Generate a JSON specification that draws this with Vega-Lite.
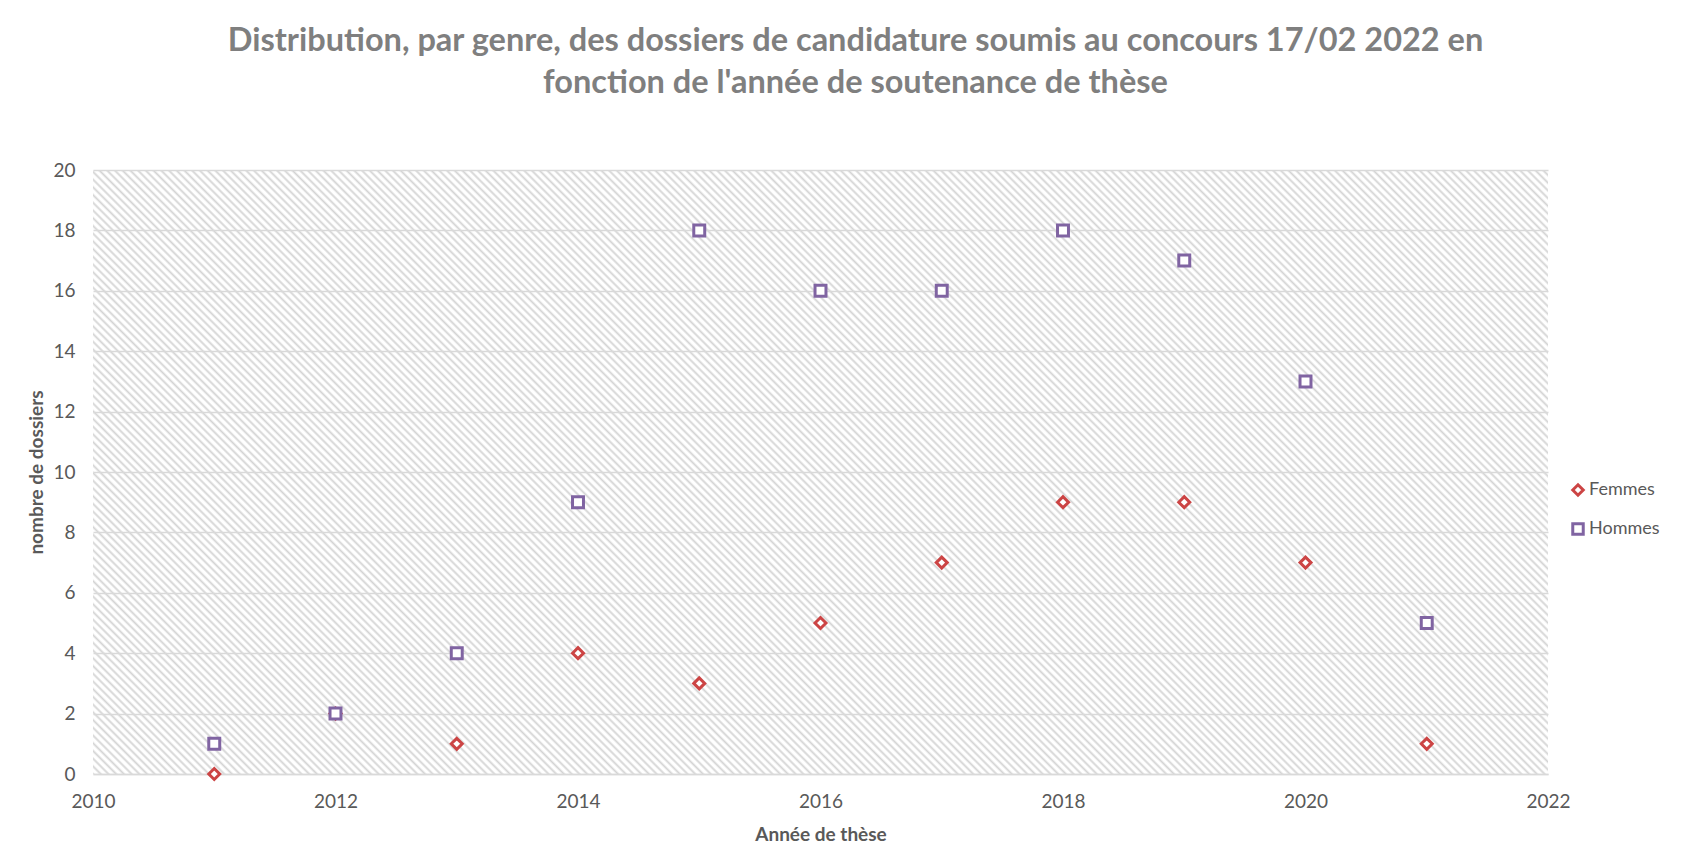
{
  "$schema": "https://vega.github.io/schema/vega-lite/v6.json",
  "width": 1455,
  "height": 604,
  "autosize": {"type": "none"},
  "padding": {"left": 93, "top": 170, "right": 146, "bottom": 76},
  "background": "white",
  "title": {
    "text": ["Distribution, par genre, des dossiers de candidature soumis au concours 17/02 2022 en", "fonction de l'année de soutenance de thèse"],
    "font": "Lato",
    "fontSize": 32.5,
    "fontWeight": "bold",
    "color": "#7f7f7f",
    "lineHeight": 42,
    "offset": 62,
    "dx": 35,
    "anchor": "middle"
  },
  "data": {
    "values": [
      {"annee": 2011, "n": 0, "genre": "Femmes"},
      {"annee": 2012, "n": 2, "genre": "Femmes"},
      {"annee": 2013, "n": 1, "genre": "Femmes"},
      {"annee": 2014, "n": 4, "genre": "Femmes"},
      {"annee": 2015, "n": 3, "genre": "Femmes"},
      {"annee": 2016, "n": 5, "genre": "Femmes"},
      {"annee": 2017, "n": 7, "genre": "Femmes"},
      {"annee": 2018, "n": 9, "genre": "Femmes"},
      {"annee": 2019, "n": 9, "genre": "Femmes"},
      {"annee": 2020, "n": 7, "genre": "Femmes"},
      {"annee": 2021, "n": 1, "genre": "Femmes"},
      {"annee": 2011, "n": 1, "genre": "Hommes"},
      {"annee": 2012, "n": 2, "genre": "Hommes"},
      {"annee": 2013, "n": 4, "genre": "Hommes"},
      {"annee": 2014, "n": 9, "genre": "Hommes"},
      {"annee": 2015, "n": 18, "genre": "Hommes"},
      {"annee": 2016, "n": 16, "genre": "Hommes"},
      {"annee": 2017, "n": 16, "genre": "Hommes"},
      {"annee": 2018, "n": 18, "genre": "Hommes"},
      {"annee": 2019, "n": 17, "genre": "Hommes"},
      {"annee": 2020, "n": 13, "genre": "Hommes"},
      {"annee": 2021, "n": 5, "genre": "Hommes"}
    ]
  },
  "mark": {"type": "point", "filled": true, "fill": "white", "strokeWidth": 3, "size": 120, "opacity": 1, "fillOpacity": 1, "strokeOpacity": 1},
  "encoding": {
    "x": {
      "field": "annee",
      "type": "quantitative",
      "scale": {"domain": [2010, 2022], "nice": false, "zero": false},
      "axis": {
        "title": "Année de thèse",
        "values": [2010, 2012, 2014, 2016, 2018, 2020, 2022],
        "format": "d",
        "grid": false,
        "ticks": false,
        "tickSize": 0,
        "labelPadding": 18,
        "labelFlush": false,
        "domainColor": "#d9d9d9",
        "domainWidth": 1.5,
        "titlePadding": 14
      }
    },
    "y": {
      "field": "n",
      "type": "quantitative",
      "scale": {"domain": [0, 20], "nice": false},
      "axis": {
        "title": "nombre de dossiers",
        "values": [0, 2, 4, 6, 8, 10, 12, 14, 16, 18, 20],
        "grid": true,
        "gridColor": "#d9d9d9",
        "gridWidth": 1.5,
        "ticks": false,
        "tickSize": 0,
        "domain": false,
        "labelPadding": 18,
        "titlePadding": 6
      }
    },
    "stroke": {
      "field": "genre",
      "type": "nominal",
      "scale": {"domain": ["Femmes", "Hommes"], "range": ["#cc4444", "#8064a2"]},
      "legend": {
        "title": null,
        "orient": "none",
        "legendX": 1476,
        "legendY": 311,
        "labelFont": "Lato",
        "labelFontSize": 18,
        "labelColor": "#595959",
        "rowPadding": 15,
        "symbolStrokeWidth": 3,
        "symbolFillColor": "white",
        "symbolSize": 110,
        "labelOffset": 2
      }
    },
    "shape": {
      "field": "genre",
      "type": "nominal",
      "scale": {"domain": ["Femmes", "Hommes"], "range": ["diamond", "square"]}
    }
  },
  "config": {
    "view": {
      "stroke": null,
      "fillOpacity": 0.85,
      "fill": {
        "gradient": "linear",
        "x1": 0, "y1": 1, "x2": 1.2071, "y2": 0.4989,
        "stops": [
{"offset":0.00,"color":"#ccc"},{"offset":0.00125,"color":"#fff"},{"offset":0.0025,"color":"#fff"},{"offset":0.00375,"color":"#ccc"},{"offset":0.005,"color":"#fff"},{"offset":0.00625,"color":"#fff"},{"offset":0.0075,"color":"#ccc"},{"offset":0.00875,"color":"#fff"},
{"offset":0.01,"color":"#fff"},{"offset":0.01125,"color":"#ccc"},{"offset":0.0125,"color":"#fff"},{"offset":0.01375,"color":"#fff"},{"offset":0.015,"color":"#ccc"},{"offset":0.01625,"color":"#fff"},{"offset":0.0175,"color":"#fff"},{"offset":0.01875,"color":"#ccc"},
{"offset":0.02,"color":"#fff"},{"offset":0.02125,"color":"#fff"},{"offset":0.0225,"color":"#ccc"},{"offset":0.02375,"color":"#fff"},{"offset":0.025,"color":"#fff"},{"offset":0.02625,"color":"#ccc"},{"offset":0.0275,"color":"#fff"},{"offset":0.02875,"color":"#fff"},
{"offset":0.03,"color":"#ccc"},{"offset":0.03125,"color":"#fff"},{"offset":0.0325,"color":"#fff"},{"offset":0.03375,"color":"#ccc"},{"offset":0.035,"color":"#fff"},{"offset":0.03625,"color":"#fff"},{"offset":0.0375,"color":"#ccc"},{"offset":0.03875,"color":"#fff"},
{"offset":0.04,"color":"#fff"},{"offset":0.04125,"color":"#ccc"},{"offset":0.0425,"color":"#fff"},{"offset":0.04375,"color":"#fff"},{"offset":0.045,"color":"#ccc"},{"offset":0.04625,"color":"#fff"},{"offset":0.0475,"color":"#fff"},{"offset":0.04875,"color":"#ccc"},
{"offset":0.05,"color":"#fff"},{"offset":0.05125,"color":"#fff"},{"offset":0.0525,"color":"#ccc"},{"offset":0.05375,"color":"#fff"},{"offset":0.055,"color":"#fff"},{"offset":0.05625,"color":"#ccc"},{"offset":0.0575,"color":"#fff"},{"offset":0.05875,"color":"#fff"},
{"offset":0.06,"color":"#ccc"},{"offset":0.06125,"color":"#fff"},{"offset":0.0625,"color":"#fff"},{"offset":0.06375,"color":"#ccc"},{"offset":0.065,"color":"#fff"},{"offset":0.06625,"color":"#fff"},{"offset":0.0675,"color":"#ccc"},{"offset":0.06875,"color":"#fff"},
{"offset":0.07,"color":"#fff"},{"offset":0.07125,"color":"#ccc"},{"offset":0.0725,"color":"#fff"},{"offset":0.07375,"color":"#fff"},{"offset":0.075,"color":"#ccc"},{"offset":0.07625,"color":"#fff"},{"offset":0.0775,"color":"#fff"},{"offset":0.07875,"color":"#ccc"},
{"offset":0.08,"color":"#fff"},{"offset":0.08125,"color":"#fff"},{"offset":0.0825,"color":"#ccc"},{"offset":0.08375,"color":"#fff"},{"offset":0.085,"color":"#fff"},{"offset":0.08625,"color":"#ccc"},{"offset":0.0875,"color":"#fff"},{"offset":0.08875,"color":"#fff"},
{"offset":0.09,"color":"#ccc"},{"offset":0.09125,"color":"#fff"},{"offset":0.0925,"color":"#fff"},{"offset":0.09375,"color":"#ccc"},{"offset":0.095,"color":"#fff"},{"offset":0.09625,"color":"#fff"},{"offset":0.0975,"color":"#ccc"},{"offset":0.09875,"color":"#fff"},
{"offset":0.10,"color":"#fff"},{"offset":0.10125,"color":"#ccc"},{"offset":0.1025,"color":"#fff"},{"offset":0.10375,"color":"#fff"},{"offset":0.105,"color":"#ccc"},{"offset":0.10625,"color":"#fff"},{"offset":0.1075,"color":"#fff"},{"offset":0.10875,"color":"#ccc"},
{"offset":0.11,"color":"#fff"},{"offset":0.11125,"color":"#fff"},{"offset":0.1125,"color":"#ccc"},{"offset":0.11375,"color":"#fff"},{"offset":0.115,"color":"#fff"},{"offset":0.11625,"color":"#ccc"},{"offset":0.1175,"color":"#fff"},{"offset":0.11875,"color":"#fff"},
{"offset":0.12,"color":"#ccc"},{"offset":0.12125,"color":"#fff"},{"offset":0.1225,"color":"#fff"},{"offset":0.12375,"color":"#ccc"},{"offset":0.125,"color":"#fff"},{"offset":0.12625,"color":"#fff"},{"offset":0.1275,"color":"#ccc"},{"offset":0.12875,"color":"#fff"},
{"offset":0.13,"color":"#fff"},{"offset":0.13125,"color":"#ccc"},{"offset":0.1325,"color":"#fff"},{"offset":0.13375,"color":"#fff"},{"offset":0.135,"color":"#ccc"},{"offset":0.13625,"color":"#fff"},{"offset":0.1375,"color":"#fff"},{"offset":0.13875,"color":"#ccc"},
{"offset":0.14,"color":"#fff"},{"offset":0.14125,"color":"#fff"},{"offset":0.1425,"color":"#ccc"},{"offset":0.14375,"color":"#fff"},{"offset":0.145,"color":"#fff"},{"offset":0.14625,"color":"#ccc"},{"offset":0.1475,"color":"#fff"},{"offset":0.14875,"color":"#fff"},
{"offset":0.15,"color":"#ccc"},{"offset":0.15125,"color":"#fff"},{"offset":0.1525,"color":"#fff"},{"offset":0.15375,"color":"#ccc"},{"offset":0.155,"color":"#fff"},{"offset":0.15625,"color":"#fff"},{"offset":0.1575,"color":"#ccc"},{"offset":0.15875,"color":"#fff"},
{"offset":0.16,"color":"#fff"},{"offset":0.16125,"color":"#ccc"},{"offset":0.1625,"color":"#fff"},{"offset":0.16375,"color":"#fff"},{"offset":0.165,"color":"#ccc"},{"offset":0.16625,"color":"#fff"},{"offset":0.1675,"color":"#fff"},{"offset":0.16875,"color":"#ccc"},
{"offset":0.17,"color":"#fff"},{"offset":0.17125,"color":"#fff"},{"offset":0.1725,"color":"#ccc"},{"offset":0.17375,"color":"#fff"},{"offset":0.175,"color":"#fff"},{"offset":0.17625,"color":"#ccc"},{"offset":0.1775,"color":"#fff"},{"offset":0.17875,"color":"#fff"},
{"offset":0.18,"color":"#ccc"},{"offset":0.18125,"color":"#fff"},{"offset":0.1825,"color":"#fff"},{"offset":0.18375,"color":"#ccc"},{"offset":0.185,"color":"#fff"},{"offset":0.18625,"color":"#fff"},{"offset":0.1875,"color":"#ccc"},{"offset":0.18875,"color":"#fff"},
{"offset":0.19,"color":"#fff"},{"offset":0.19125,"color":"#ccc"},{"offset":0.1925,"color":"#fff"},{"offset":0.19375,"color":"#fff"},{"offset":0.195,"color":"#ccc"},{"offset":0.19625,"color":"#fff"},{"offset":0.1975,"color":"#fff"},{"offset":0.19875,"color":"#ccc"},
{"offset":0.20,"color":"#fff"},{"offset":0.20125,"color":"#fff"},{"offset":0.2025,"color":"#ccc"},{"offset":0.20375,"color":"#fff"},{"offset":0.205,"color":"#fff"},{"offset":0.20625,"color":"#ccc"},{"offset":0.2075,"color":"#fff"},{"offset":0.20875,"color":"#fff"},
{"offset":0.21,"color":"#ccc"},{"offset":0.21125,"color":"#fff"},{"offset":0.2125,"color":"#fff"},{"offset":0.21375,"color":"#ccc"},{"offset":0.215,"color":"#fff"},{"offset":0.21625,"color":"#fff"},{"offset":0.2175,"color":"#ccc"},{"offset":0.21875,"color":"#fff"},
{"offset":0.22,"color":"#fff"},{"offset":0.22125,"color":"#ccc"},{"offset":0.2225,"color":"#fff"},{"offset":0.22375,"color":"#fff"},{"offset":0.225,"color":"#ccc"},{"offset":0.22625,"color":"#fff"},{"offset":0.2275,"color":"#fff"},{"offset":0.22875,"color":"#ccc"},
{"offset":0.23,"color":"#fff"},{"offset":0.23125,"color":"#fff"},{"offset":0.2325,"color":"#ccc"},{"offset":0.23375,"color":"#fff"},{"offset":0.235,"color":"#fff"},{"offset":0.23625,"color":"#ccc"},{"offset":0.2375,"color":"#fff"},{"offset":0.23875,"color":"#fff"},
{"offset":0.24,"color":"#ccc"},{"offset":0.24125,"color":"#fff"},{"offset":0.2425,"color":"#fff"},{"offset":0.24375,"color":"#ccc"},{"offset":0.245,"color":"#fff"},{"offset":0.24625,"color":"#fff"},{"offset":0.2475,"color":"#ccc"},{"offset":0.24875,"color":"#fff"},
{"offset":0.25,"color":"#fff"},{"offset":0.25125,"color":"#ccc"},{"offset":0.2525,"color":"#fff"},{"offset":0.25375,"color":"#fff"},{"offset":0.255,"color":"#ccc"},{"offset":0.25625,"color":"#fff"},{"offset":0.2575,"color":"#fff"},{"offset":0.25875,"color":"#ccc"},
{"offset":0.26,"color":"#fff"},{"offset":0.26125,"color":"#fff"},{"offset":0.2625,"color":"#ccc"},{"offset":0.26375,"color":"#fff"},{"offset":0.265,"color":"#fff"},{"offset":0.26625,"color":"#ccc"},{"offset":0.2675,"color":"#fff"},{"offset":0.26875,"color":"#fff"},
{"offset":0.27,"color":"#ccc"},{"offset":0.27125,"color":"#fff"},{"offset":0.2725,"color":"#fff"},{"offset":0.27375,"color":"#ccc"},{"offset":0.275,"color":"#fff"},{"offset":0.27625,"color":"#fff"},{"offset":0.2775,"color":"#ccc"},{"offset":0.27875,"color":"#fff"},
{"offset":0.28,"color":"#fff"},{"offset":0.28125,"color":"#ccc"},{"offset":0.2825,"color":"#fff"},{"offset":0.28375,"color":"#fff"},{"offset":0.285,"color":"#ccc"},{"offset":0.28625,"color":"#fff"},{"offset":0.2875,"color":"#fff"},{"offset":0.28875,"color":"#ccc"},
{"offset":0.29,"color":"#fff"},{"offset":0.29125,"color":"#fff"},{"offset":0.2925,"color":"#ccc"},{"offset":0.29375,"color":"#fff"},{"offset":0.295,"color":"#fff"},{"offset":0.29625,"color":"#ccc"},{"offset":0.2975,"color":"#fff"},{"offset":0.29875,"color":"#fff"},
{"offset":0.30,"color":"#ccc"},{"offset":0.30125,"color":"#fff"},{"offset":0.3025,"color":"#fff"},{"offset":0.30375,"color":"#ccc"},{"offset":0.305,"color":"#fff"},{"offset":0.30625,"color":"#fff"},{"offset":0.3075,"color":"#ccc"},{"offset":0.30875,"color":"#fff"},
{"offset":0.31,"color":"#fff"},{"offset":0.31125,"color":"#ccc"},{"offset":0.3125,"color":"#fff"},{"offset":0.31375,"color":"#fff"},{"offset":0.315,"color":"#ccc"},{"offset":0.31625,"color":"#fff"},{"offset":0.3175,"color":"#fff"},{"offset":0.31875,"color":"#ccc"},
{"offset":0.32,"color":"#fff"},{"offset":0.32125,"color":"#fff"},{"offset":0.3225,"color":"#ccc"},{"offset":0.32375,"color":"#fff"},{"offset":0.325,"color":"#fff"},{"offset":0.32625,"color":"#ccc"},{"offset":0.3275,"color":"#fff"},{"offset":0.32875,"color":"#fff"},
{"offset":0.33,"color":"#ccc"},{"offset":0.33125,"color":"#fff"},{"offset":0.3325,"color":"#fff"},{"offset":0.33375,"color":"#ccc"},{"offset":0.335,"color":"#fff"},{"offset":0.33625,"color":"#fff"},{"offset":0.3375,"color":"#ccc"},{"offset":0.33875,"color":"#fff"},
{"offset":0.34,"color":"#fff"},{"offset":0.34125,"color":"#ccc"},{"offset":0.3425,"color":"#fff"},{"offset":0.34375,"color":"#fff"},{"offset":0.345,"color":"#ccc"},{"offset":0.34625,"color":"#fff"},{"offset":0.3475,"color":"#fff"},{"offset":0.34875,"color":"#ccc"},
{"offset":0.35,"color":"#fff"},{"offset":0.35125,"color":"#fff"},{"offset":0.3525,"color":"#ccc"},{"offset":0.35375,"color":"#fff"},{"offset":0.355,"color":"#fff"},{"offset":0.35625,"color":"#ccc"},{"offset":0.3575,"color":"#fff"},{"offset":0.35875,"color":"#fff"},
{"offset":0.36,"color":"#ccc"},{"offset":0.36125,"color":"#fff"},{"offset":0.3625,"color":"#fff"},{"offset":0.36375,"color":"#ccc"},{"offset":0.365,"color":"#fff"},{"offset":0.36625,"color":"#fff"},{"offset":0.3675,"color":"#ccc"},{"offset":0.36875,"color":"#fff"},
{"offset":0.37,"color":"#fff"},{"offset":0.37125,"color":"#ccc"},{"offset":0.3725,"color":"#fff"},{"offset":0.37375,"color":"#fff"},{"offset":0.375,"color":"#ccc"},{"offset":0.37625,"color":"#fff"},{"offset":0.3775,"color":"#fff"},{"offset":0.37875,"color":"#ccc"},
{"offset":0.38,"color":"#fff"},{"offset":0.38125,"color":"#fff"},{"offset":0.3825,"color":"#ccc"},{"offset":0.38375,"color":"#fff"},{"offset":0.385,"color":"#fff"},{"offset":0.38625,"color":"#ccc"},{"offset":0.3875,"color":"#fff"},{"offset":0.38875,"color":"#fff"},
{"offset":0.39,"color":"#ccc"},{"offset":0.39125,"color":"#fff"},{"offset":0.3925,"color":"#fff"},{"offset":0.39375,"color":"#ccc"},{"offset":0.395,"color":"#fff"},{"offset":0.39625,"color":"#fff"},{"offset":0.3975,"color":"#ccc"},{"offset":0.39875,"color":"#fff"},
{"offset":0.40,"color":"#fff"},{"offset":0.40125,"color":"#ccc"},{"offset":0.4025,"color":"#fff"},{"offset":0.40375,"color":"#fff"},{"offset":0.405,"color":"#ccc"},{"offset":0.40625,"color":"#fff"},{"offset":0.4075,"color":"#fff"},{"offset":0.40875,"color":"#ccc"},
{"offset":0.41,"color":"#fff"},{"offset":0.41125,"color":"#fff"},{"offset":0.4125,"color":"#ccc"},{"offset":0.41375,"color":"#fff"},{"offset":0.415,"color":"#fff"},{"offset":0.41625,"color":"#ccc"},{"offset":0.4175,"color":"#fff"},{"offset":0.41875,"color":"#fff"},
{"offset":0.42,"color":"#ccc"},{"offset":0.42125,"color":"#fff"},{"offset":0.4225,"color":"#fff"},{"offset":0.42375,"color":"#ccc"},{"offset":0.425,"color":"#fff"},{"offset":0.42625,"color":"#fff"},{"offset":0.4275,"color":"#ccc"},{"offset":0.42875,"color":"#fff"},
{"offset":0.43,"color":"#fff"},{"offset":0.43125,"color":"#ccc"},{"offset":0.4325,"color":"#fff"},{"offset":0.43375,"color":"#fff"},{"offset":0.435,"color":"#ccc"},{"offset":0.43625,"color":"#fff"},{"offset":0.4375,"color":"#fff"},{"offset":0.43875,"color":"#ccc"},
{"offset":0.44,"color":"#fff"},{"offset":0.44125,"color":"#fff"},{"offset":0.4425,"color":"#ccc"},{"offset":0.44375,"color":"#fff"},{"offset":0.445,"color":"#fff"},{"offset":0.44625,"color":"#ccc"},{"offset":0.4475,"color":"#fff"},{"offset":0.44875,"color":"#fff"},
{"offset":0.45,"color":"#ccc"},{"offset":0.45125,"color":"#fff"},{"offset":0.4525,"color":"#fff"},{"offset":0.45375,"color":"#ccc"},{"offset":0.455,"color":"#fff"},{"offset":0.45625,"color":"#fff"},{"offset":0.4575,"color":"#ccc"},{"offset":0.45875,"color":"#fff"},
{"offset":0.46,"color":"#fff"},{"offset":0.46125,"color":"#ccc"},{"offset":0.4625,"color":"#fff"},{"offset":0.46375,"color":"#fff"},{"offset":0.465,"color":"#ccc"},{"offset":0.46625,"color":"#fff"},{"offset":0.4675,"color":"#fff"},{"offset":0.46875,"color":"#ccc"},
{"offset":0.47,"color":"#fff"},{"offset":0.47125,"color":"#fff"},{"offset":0.4725,"color":"#ccc"},{"offset":0.47375,"color":"#fff"},{"offset":0.475,"color":"#fff"},{"offset":0.47625,"color":"#ccc"},{"offset":0.4775,"color":"#fff"},{"offset":0.47875,"color":"#fff"},
{"offset":0.48,"color":"#ccc"},{"offset":0.48125,"color":"#fff"},{"offset":0.4825,"color":"#fff"},{"offset":0.48375,"color":"#ccc"},{"offset":0.485,"color":"#fff"},{"offset":0.48625,"color":"#fff"},{"offset":0.4875,"color":"#ccc"},{"offset":0.48875,"color":"#fff"},
{"offset":0.49,"color":"#fff"},{"offset":0.49125,"color":"#ccc"},{"offset":0.4925,"color":"#fff"},{"offset":0.49375,"color":"#fff"},{"offset":0.495,"color":"#ccc"},{"offset":0.49625,"color":"#fff"},{"offset":0.4975,"color":"#fff"},{"offset":0.49875,"color":"#ccc"},
{"offset":0.50,"color":"#fff"},{"offset":0.50125,"color":"#fff"},{"offset":0.5025,"color":"#ccc"},{"offset":0.50375,"color":"#fff"},{"offset":0.505,"color":"#fff"},{"offset":0.50625,"color":"#ccc"},{"offset":0.5075,"color":"#fff"},{"offset":0.50875,"color":"#fff"},
{"offset":0.51,"color":"#ccc"},{"offset":0.51125,"color":"#fff"},{"offset":0.5125,"color":"#fff"},{"offset":0.51375,"color":"#ccc"},{"offset":0.515,"color":"#fff"},{"offset":0.51625,"color":"#fff"},{"offset":0.5175,"color":"#ccc"},{"offset":0.51875,"color":"#fff"},
{"offset":0.52,"color":"#fff"},{"offset":0.52125,"color":"#ccc"},{"offset":0.5225,"color":"#fff"},{"offset":0.52375,"color":"#fff"},{"offset":0.525,"color":"#ccc"},{"offset":0.52625,"color":"#fff"},{"offset":0.5275,"color":"#fff"},{"offset":0.52875,"color":"#ccc"},
{"offset":0.53,"color":"#fff"},{"offset":0.53125,"color":"#fff"},{"offset":0.5325,"color":"#ccc"},{"offset":0.53375,"color":"#fff"},{"offset":0.535,"color":"#fff"},{"offset":0.53625,"color":"#ccc"},{"offset":0.5375,"color":"#fff"},{"offset":0.53875,"color":"#fff"},
{"offset":0.54,"color":"#ccc"},{"offset":0.54125,"color":"#fff"},{"offset":0.5425,"color":"#fff"},{"offset":0.54375,"color":"#ccc"},{"offset":0.545,"color":"#fff"},{"offset":0.54625,"color":"#fff"},{"offset":0.5475,"color":"#ccc"},{"offset":0.54875,"color":"#fff"},
{"offset":0.55,"color":"#fff"},{"offset":0.55125,"color":"#ccc"},{"offset":0.5525,"color":"#fff"},{"offset":0.55375,"color":"#fff"},{"offset":0.555,"color":"#ccc"},{"offset":0.55625,"color":"#fff"},{"offset":0.5575,"color":"#fff"},{"offset":0.55875,"color":"#ccc"},
{"offset":0.56,"color":"#fff"},{"offset":0.56125,"color":"#fff"},{"offset":0.5625,"color":"#ccc"},{"offset":0.56375,"color":"#fff"},{"offset":0.565,"color":"#fff"},{"offset":0.56625,"color":"#ccc"},{"offset":0.5675,"color":"#fff"},{"offset":0.56875,"color":"#fff"},
{"offset":0.57,"color":"#ccc"},{"offset":0.57125,"color":"#fff"},{"offset":0.5725,"color":"#fff"},{"offset":0.57375,"color":"#ccc"},{"offset":0.575,"color":"#fff"},{"offset":0.57625,"color":"#fff"},{"offset":0.5775,"color":"#ccc"},{"offset":0.57875,"color":"#fff"},
{"offset":0.58,"color":"#fff"},{"offset":0.58125,"color":"#ccc"},{"offset":0.5825,"color":"#fff"},{"offset":0.58375,"color":"#fff"},{"offset":0.585,"color":"#ccc"},{"offset":0.58625,"color":"#fff"},{"offset":0.5875,"color":"#fff"},{"offset":0.58875,"color":"#ccc"},
{"offset":0.59,"color":"#fff"},{"offset":0.59125,"color":"#fff"},{"offset":0.5925,"color":"#ccc"},{"offset":0.59375,"color":"#fff"},{"offset":0.595,"color":"#fff"},{"offset":0.59625,"color":"#ccc"},{"offset":0.5975,"color":"#fff"},{"offset":0.59875,"color":"#fff"},
{"offset":0.60,"color":"#ccc"},{"offset":0.60125,"color":"#fff"},{"offset":0.6025,"color":"#fff"},{"offset":0.60375,"color":"#ccc"},{"offset":0.605,"color":"#fff"},{"offset":0.60625,"color":"#fff"},{"offset":0.6075,"color":"#ccc"},{"offset":0.60875,"color":"#fff"},
{"offset":0.61,"color":"#fff"},{"offset":0.61125,"color":"#ccc"},{"offset":0.6125,"color":"#fff"},{"offset":0.61375,"color":"#fff"},{"offset":0.615,"color":"#ccc"},{"offset":0.61625,"color":"#fff"},{"offset":0.6175,"color":"#fff"},{"offset":0.61875,"color":"#ccc"},
{"offset":0.62,"color":"#fff"},{"offset":0.62125,"color":"#fff"},{"offset":0.6225,"color":"#ccc"},{"offset":0.62375,"color":"#fff"},{"offset":0.625,"color":"#fff"},{"offset":0.62625,"color":"#ccc"},{"offset":0.6275,"color":"#fff"},{"offset":0.62875,"color":"#fff"},
{"offset":0.63,"color":"#ccc"},{"offset":0.63125,"color":"#fff"},{"offset":0.6325,"color":"#fff"},{"offset":0.63375,"color":"#ccc"},{"offset":0.635,"color":"#fff"},{"offset":0.63625,"color":"#fff"},{"offset":0.6375,"color":"#ccc"},{"offset":0.63875,"color":"#fff"},
{"offset":0.64,"color":"#fff"},{"offset":0.64125,"color":"#ccc"},{"offset":0.6425,"color":"#fff"},{"offset":0.64375,"color":"#fff"},{"offset":0.645,"color":"#ccc"},{"offset":0.64625,"color":"#fff"},{"offset":0.6475,"color":"#fff"},{"offset":0.64875,"color":"#ccc"},
{"offset":0.65,"color":"#fff"},{"offset":0.65125,"color":"#fff"},{"offset":0.6525,"color":"#ccc"},{"offset":0.65375,"color":"#fff"},{"offset":0.655,"color":"#fff"},{"offset":0.65625,"color":"#ccc"},{"offset":0.6575,"color":"#fff"},{"offset":0.65875,"color":"#fff"},
{"offset":0.66,"color":"#ccc"},{"offset":0.66125,"color":"#fff"},{"offset":0.6625,"color":"#fff"},{"offset":0.66375,"color":"#ccc"},{"offset":0.665,"color":"#fff"},{"offset":0.66625,"color":"#fff"},{"offset":0.6675,"color":"#ccc"},{"offset":0.66875,"color":"#fff"},
{"offset":0.67,"color":"#fff"},{"offset":0.67125,"color":"#ccc"},{"offset":0.6725,"color":"#fff"},{"offset":0.67375,"color":"#fff"},{"offset":0.675,"color":"#ccc"},{"offset":0.67625,"color":"#fff"},{"offset":0.6775,"color":"#fff"},{"offset":0.67875,"color":"#ccc"},
{"offset":0.68,"color":"#fff"},{"offset":0.68125,"color":"#fff"},{"offset":0.6825,"color":"#ccc"},{"offset":0.68375,"color":"#fff"},{"offset":0.685,"color":"#fff"},{"offset":0.68625,"color":"#ccc"},{"offset":0.6875,"color":"#fff"},{"offset":0.68875,"color":"#fff"},
{"offset":0.69,"color":"#ccc"},{"offset":0.69125,"color":"#fff"},{"offset":0.6925,"color":"#fff"},{"offset":0.69375,"color":"#ccc"},{"offset":0.695,"color":"#fff"},{"offset":0.69625,"color":"#fff"},{"offset":0.6975,"color":"#ccc"},{"offset":0.69875,"color":"#fff"},
{"offset":0.70,"color":"#fff"},{"offset":0.70125,"color":"#ccc"},{"offset":0.7025,"color":"#fff"},{"offset":0.70375,"color":"#fff"},{"offset":0.705,"color":"#ccc"},{"offset":0.70625,"color":"#fff"},{"offset":0.7075,"color":"#fff"},{"offset":0.70875,"color":"#ccc"},
{"offset":0.71,"color":"#fff"},{"offset":0.71125,"color":"#fff"},{"offset":0.7125,"color":"#ccc"},{"offset":0.71375,"color":"#fff"},{"offset":0.715,"color":"#fff"},{"offset":0.71625,"color":"#ccc"},{"offset":0.7175,"color":"#fff"},{"offset":0.71875,"color":"#fff"},
{"offset":0.72,"color":"#ccc"},{"offset":0.72125,"color":"#fff"},{"offset":0.7225,"color":"#fff"},{"offset":0.72375,"color":"#ccc"},{"offset":0.725,"color":"#fff"},{"offset":0.72625,"color":"#fff"},{"offset":0.7275,"color":"#ccc"},{"offset":0.72875,"color":"#fff"},
{"offset":0.73,"color":"#fff"},{"offset":0.73125,"color":"#ccc"},{"offset":0.7325,"color":"#fff"},{"offset":0.73375,"color":"#fff"},{"offset":0.735,"color":"#ccc"},{"offset":0.73625,"color":"#fff"},{"offset":0.7375,"color":"#fff"},{"offset":0.73875,"color":"#ccc"},
{"offset":0.74,"color":"#fff"},{"offset":0.74125,"color":"#fff"},{"offset":0.7425,"color":"#ccc"},{"offset":0.74375,"color":"#fff"},{"offset":0.745,"color":"#fff"},{"offset":0.74625,"color":"#ccc"},{"offset":0.7475,"color":"#fff"},{"offset":0.74875,"color":"#fff"},
{"offset":0.75,"color":"#ccc"},{"offset":0.75125,"color":"#fff"},{"offset":0.7525,"color":"#fff"},{"offset":0.75375,"color":"#ccc"},{"offset":0.755,"color":"#fff"},{"offset":0.75625,"color":"#fff"},{"offset":0.7575,"color":"#ccc"},{"offset":0.75875,"color":"#fff"},
{"offset":0.76,"color":"#fff"},{"offset":0.76125,"color":"#ccc"},{"offset":0.7625,"color":"#fff"},{"offset":0.76375,"color":"#fff"},{"offset":0.765,"color":"#ccc"},{"offset":0.76625,"color":"#fff"},{"offset":0.7675,"color":"#fff"},{"offset":0.76875,"color":"#ccc"},
{"offset":0.77,"color":"#fff"},{"offset":0.77125,"color":"#fff"},{"offset":0.7725,"color":"#ccc"},{"offset":0.77375,"color":"#fff"},{"offset":0.775,"color":"#fff"},{"offset":0.77625,"color":"#ccc"},{"offset":0.7775,"color":"#fff"},{"offset":0.77875,"color":"#fff"},
{"offset":0.78,"color":"#ccc"},{"offset":0.78125,"color":"#fff"},{"offset":0.7825,"color":"#fff"},{"offset":0.78375,"color":"#ccc"},{"offset":0.785,"color":"#fff"},{"offset":0.78625,"color":"#fff"},{"offset":0.7875,"color":"#ccc"},{"offset":0.78875,"color":"#fff"},
{"offset":0.79,"color":"#fff"},{"offset":0.79125,"color":"#ccc"},{"offset":0.7925,"color":"#fff"},{"offset":0.79375,"color":"#fff"},{"offset":0.795,"color":"#ccc"},{"offset":0.79625,"color":"#fff"},{"offset":0.7975,"color":"#fff"},{"offset":0.79875,"color":"#ccc"},
{"offset":0.80,"color":"#fff"},{"offset":0.80125,"color":"#fff"},{"offset":0.8025,"color":"#ccc"},{"offset":0.80375,"color":"#fff"},{"offset":0.805,"color":"#fff"},{"offset":0.80625,"color":"#ccc"},{"offset":0.8075,"color":"#fff"},{"offset":0.80875,"color":"#fff"},
{"offset":0.81,"color":"#ccc"},{"offset":0.81125,"color":"#fff"},{"offset":0.8125,"color":"#fff"},{"offset":0.81375,"color":"#ccc"},{"offset":0.815,"color":"#fff"},{"offset":0.81625,"color":"#fff"},{"offset":0.8175,"color":"#ccc"},{"offset":0.81875,"color":"#fff"},
{"offset":0.82,"color":"#fff"},{"offset":0.82125,"color":"#ccc"},{"offset":0.8225,"color":"#fff"},{"offset":0.82375,"color":"#fff"},{"offset":0.825,"color":"#ccc"},{"offset":0.82625,"color":"#fff"},{"offset":0.8275,"color":"#fff"},{"offset":0.82875,"color":"#ccc"},
{"offset":0.83,"color":"#fff"},{"offset":0.83125,"color":"#fff"},{"offset":0.8325,"color":"#ccc"},{"offset":0.83375,"color":"#fff"},{"offset":0.835,"color":"#fff"},{"offset":0.83625,"color":"#ccc"},{"offset":0.8375,"color":"#fff"},{"offset":0.83875,"color":"#fff"},
{"offset":0.84,"color":"#ccc"},{"offset":0.84125,"color":"#fff"},{"offset":0.8425,"color":"#fff"},{"offset":0.84375,"color":"#ccc"},{"offset":0.845,"color":"#fff"},{"offset":0.84625,"color":"#fff"},{"offset":0.8475,"color":"#ccc"},{"offset":0.84875,"color":"#fff"},
{"offset":0.85,"color":"#fff"},{"offset":0.85125,"color":"#ccc"},{"offset":0.8525,"color":"#fff"},{"offset":0.85375,"color":"#fff"},{"offset":0.855,"color":"#ccc"},{"offset":0.85625,"color":"#fff"},{"offset":0.8575,"color":"#fff"},{"offset":0.85875,"color":"#ccc"},
{"offset":0.86,"color":"#fff"},{"offset":0.86125,"color":"#fff"},{"offset":0.8625,"color":"#ccc"},{"offset":0.86375,"color":"#fff"},{"offset":0.865,"color":"#fff"},{"offset":0.86625,"color":"#ccc"},{"offset":0.8675,"color":"#fff"},{"offset":0.86875,"color":"#fff"},
{"offset":0.87,"color":"#ccc"},{"offset":0.87125,"color":"#fff"},{"offset":0.8725,"color":"#fff"},{"offset":0.87375,"color":"#ccc"},{"offset":0.875,"color":"#fff"},{"offset":0.87625,"color":"#fff"},{"offset":0.8775,"color":"#ccc"},{"offset":0.87875,"color":"#fff"},
{"offset":0.88,"color":"#fff"},{"offset":0.88125,"color":"#ccc"},{"offset":0.8825,"color":"#fff"},{"offset":0.88375,"color":"#fff"},{"offset":0.885,"color":"#ccc"},{"offset":0.88625,"color":"#fff"},{"offset":0.8875,"color":"#fff"},{"offset":0.88875,"color":"#ccc"},
{"offset":0.89,"color":"#fff"},{"offset":0.89125,"color":"#fff"},{"offset":0.8925,"color":"#ccc"},{"offset":0.89375,"color":"#fff"},{"offset":0.895,"color":"#fff"},{"offset":0.89625,"color":"#ccc"},{"offset":0.8975,"color":"#fff"},{"offset":0.89875,"color":"#fff"},
{"offset":0.90,"color":"#ccc"},{"offset":0.90125,"color":"#fff"},{"offset":0.9025,"color":"#fff"},{"offset":0.90375,"color":"#ccc"},{"offset":0.905,"color":"#fff"},{"offset":0.90625,"color":"#fff"},{"offset":0.9075,"color":"#ccc"},{"offset":0.90875,"color":"#fff"},
{"offset":0.91,"color":"#fff"},{"offset":0.91125,"color":"#ccc"},{"offset":0.9125,"color":"#fff"},{"offset":0.91375,"color":"#fff"},{"offset":0.915,"color":"#ccc"},{"offset":0.91625,"color":"#fff"},{"offset":0.9175,"color":"#fff"},{"offset":0.91875,"color":"#ccc"},
{"offset":0.92,"color":"#fff"},{"offset":0.92125,"color":"#fff"},{"offset":0.9225,"color":"#ccc"},{"offset":0.92375,"color":"#fff"},{"offset":0.925,"color":"#fff"},{"offset":0.92625,"color":"#ccc"},{"offset":0.9275,"color":"#fff"},{"offset":0.92875,"color":"#fff"},
{"offset":0.93,"color":"#ccc"},{"offset":0.93125,"color":"#fff"},{"offset":0.9325,"color":"#fff"},{"offset":0.93375,"color":"#ccc"},{"offset":0.935,"color":"#fff"},{"offset":0.93625,"color":"#fff"},{"offset":0.9375,"color":"#ccc"},{"offset":0.93875,"color":"#fff"},
{"offset":0.94,"color":"#fff"},{"offset":0.94125,"color":"#ccc"},{"offset":0.9425,"color":"#fff"},{"offset":0.94375,"color":"#fff"},{"offset":0.945,"color":"#ccc"},{"offset":0.94625,"color":"#fff"},{"offset":0.9475,"color":"#fff"},{"offset":0.94875,"color":"#ccc"},
{"offset":0.95,"color":"#fff"},{"offset":0.95125,"color":"#fff"},{"offset":0.9525,"color":"#ccc"},{"offset":0.95375,"color":"#fff"},{"offset":0.955,"color":"#fff"},{"offset":0.95625,"color":"#ccc"},{"offset":0.9575,"color":"#fff"},{"offset":0.95875,"color":"#fff"},
{"offset":0.96,"color":"#ccc"},{"offset":0.96125,"color":"#fff"},{"offset":0.9625,"color":"#fff"},{"offset":0.96375,"color":"#ccc"},{"offset":0.965,"color":"#fff"},{"offset":0.96625,"color":"#fff"},{"offset":0.9675,"color":"#ccc"},{"offset":0.96875,"color":"#fff"},
{"offset":0.97,"color":"#fff"},{"offset":0.97125,"color":"#ccc"},{"offset":0.9725,"color":"#fff"},{"offset":0.97375,"color":"#fff"},{"offset":0.975,"color":"#ccc"},{"offset":0.97625,"color":"#fff"},{"offset":0.9775,"color":"#fff"},{"offset":0.97875,"color":"#ccc"},
{"offset":0.98,"color":"#fff"},{"offset":0.98125,"color":"#fff"},{"offset":0.9825,"color":"#ccc"},{"offset":0.98375,"color":"#fff"},{"offset":0.985,"color":"#fff"},{"offset":0.98625,"color":"#ccc"},{"offset":0.9875,"color":"#fff"},{"offset":0.98875,"color":"#fff"},
{"offset":0.99,"color":"#ccc"},{"offset":0.99125,"color":"#fff"},{"offset":0.9925,"color":"#fff"},{"offset":0.99375,"color":"#ccc"},{"offset":0.995,"color":"#fff"},{"offset":0.99625,"color":"#fff"},{"offset":0.9975,"color":"#ccc"},{"offset":0.99875,"color":"#fff"},
{"offset":1,"color":"#fff"}
        ]
      }
    },
    "axis": {
      "labelFont": "Lato",
      "labelFontSize": 19,
      "labelColor": "#595959",
      "titleFont": "Lato",
      "titleFontSize": 19,
      "titleFontWeight": "bold",
      "titleColor": "#595959"
    }
  }
}
